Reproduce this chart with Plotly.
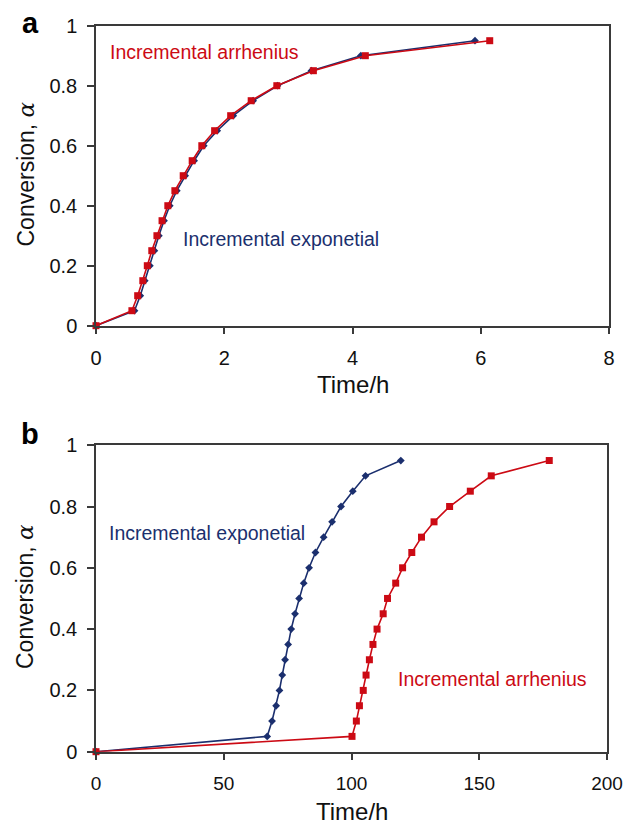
import plotly.graph_objects as go

W, H = 623, 824

# ---- data ----
alpha = [0, 0.05, 0.1, 0.15, 0.2, 0.25, 0.3, 0.35, 0.4, 0.45, 0.5,
         0.55, 0.6, 0.65, 0.7, 0.75, 0.8, 0.85, 0.9, 0.95]

a_exp_t = [0, 0.60, 0.69, 0.76, 0.84, 0.91, 0.98, 1.06, 1.15, 1.26, 1.39,
           1.53, 1.68, 1.89, 2.14, 2.45, 2.83, 3.36, 4.13, 5.91]
a_arr_t = [0, 0.56, 0.65, 0.73, 0.80, 0.87, 0.95, 1.03, 1.12, 1.23, 1.36,
           1.50, 1.65, 1.85, 2.10, 2.42, 2.82, 3.39, 4.20, 6.14]

b_exp_t = [0, 67.0, 68.9, 70.5, 71.8, 72.9, 74.0, 75.2, 76.4, 77.9, 79.5,
           81.3, 83.4, 85.9, 89.1, 92.4, 95.9, 100.5, 105.5, 119.3]
b_arr_t = [0, 100.2, 101.9, 103.1, 104.6, 105.7, 107.0, 108.4, 110.0, 112.4, 114.1,
           117.3, 120.0, 123.6, 127.4, 132.3, 138.4, 146.5, 154.7, 177.4]

a_xticks = [0, 2, 4, 6, 8]
b_xticks = [0, 50, 100, 150, 200]
yticks = [0, 0.2, 0.4, 0.6, 0.8, 1]
ytick_text = ["0", "0.2", "0.4", "0.6", "0.8", "1"]

BLUE = "#1b2f6e"
RED = "#cc0a14"
AX = "#3a3a3a"
FONT = "Liberation Sans, Arial, sans-serif"


def px(x):
    return x / W


def py(y):
    return 1 - y / H


fig = go.Figure()

for xs, color, sym, size, xa, ya in [
    (a_exp_t, BLUE, "diamond", 6, "x", "y"),
    (a_arr_t, RED, "square", 7, "x", "y"),
    (b_exp_t, BLUE, "diamond", 6, "x2", "y2"),
    (b_arr_t, RED, "square", 7, "x2", "y2"),
]:
    fig.add_trace(go.Scatter(
        x=xs, y=alpha, mode="lines+markers", xaxis=xa, yaxis=ya,
        line=dict(color=color, width=1.6),
        marker=dict(symbol=sym, size=size, color=color, line=dict(width=0)),
        cliponaxis=False, showlegend=False, hoverinfo="skip",
    ))

axcommon = dict(showline=True, linecolor=AX, linewidth=1.5, mirror=True,
                ticks="outside", ticklen=7, tickwidth=1.5, tickcolor=AX,
                showgrid=False, zeroline=False, automargin=False,
                ticklabeloverflow="allow")


def tf(size):
    return dict(family=FONT, size=size, color="#111")


fig.update_layout(
    width=W, height=H, autosize=False,
    margin=dict(l=0, r=0, t=0, b=0, pad=0),
    paper_bgcolor="white", plot_bgcolor="white",
    xaxis=dict(domain=[px(96), px(609)], range=[0, 8], tickvals=a_xticks,
               anchor="y", ticklabelstandoff=7, tickfont=tf(20), **axcommon),
    yaxis=dict(domain=[py(325.7), py(25.7)], range=[0, 1], tickvals=yticks,
               ticktext=ytick_text, anchor="x", ticklabelstandoff=6,
               tickfont=tf(20), **axcommon),
    xaxis2=dict(domain=[px(96), px(607)], range=[0, 200], tickvals=b_xticks,
                anchor="y2", ticklabelstandoff=7, tickfont=tf(19), **axcommon),
    yaxis2=dict(domain=[py(751.7), py(445.2)], range=[0, 1], tickvals=yticks,
                ticktext=ytick_text, anchor="x2", ticklabelstandoff=6,
                tickfont=tf(20), **axcommon),
)

ylab = "Conversion, <i><span style='font-family:DejaVu Serif'>α</span></i>"
BIG = dict(family=FONT, size=29, color="black")
ANN = 19.5
anns = [
    ("<b>a</b>", 30, 23, "center", 0, BIG),
    ("<b>b</b>", 30, 434, "center", 0, BIG),
    ("Incremental arrhenius", 108, 52.5, "left", 0, dict(family=FONT, size=ANN, color=RED)),
    ("Incremental exponetial", 181, 239, "left", 0, dict(family=FONT, size=ANN, color=BLUE)),
    ("Incremental exponetial", 107, 533, "left", 0, dict(family=FONT, size=ANN, color=BLUE)),
    ("Incremental arrhenius", 396, 679, "left", 0, dict(family=FONT, size=ANN, color=RED)),
    ("Time/h", 352.5, 385, "center", 0, tf(24)),
    ("Time/h", 351.5, 811, "center", 0, tf(24)),
    (ylab, 25, 174.5, "center", -90, tf(23)),
    (ylab, 25, 597, "center", -90, tf(23)),
]
for text, x, y, xa, ang, font in anns:
    fig.add_annotation(
        text=text, x=px(x), y=py(y), xref="paper", yref="paper",
        xanchor=xa, yanchor="middle", textangle=ang, showarrow=False, font=font,
    )

fig.write_html(
    "out.html",
    post_script="document.body.style.margin='0px';document.body.style.overflow='hidden';",
)
